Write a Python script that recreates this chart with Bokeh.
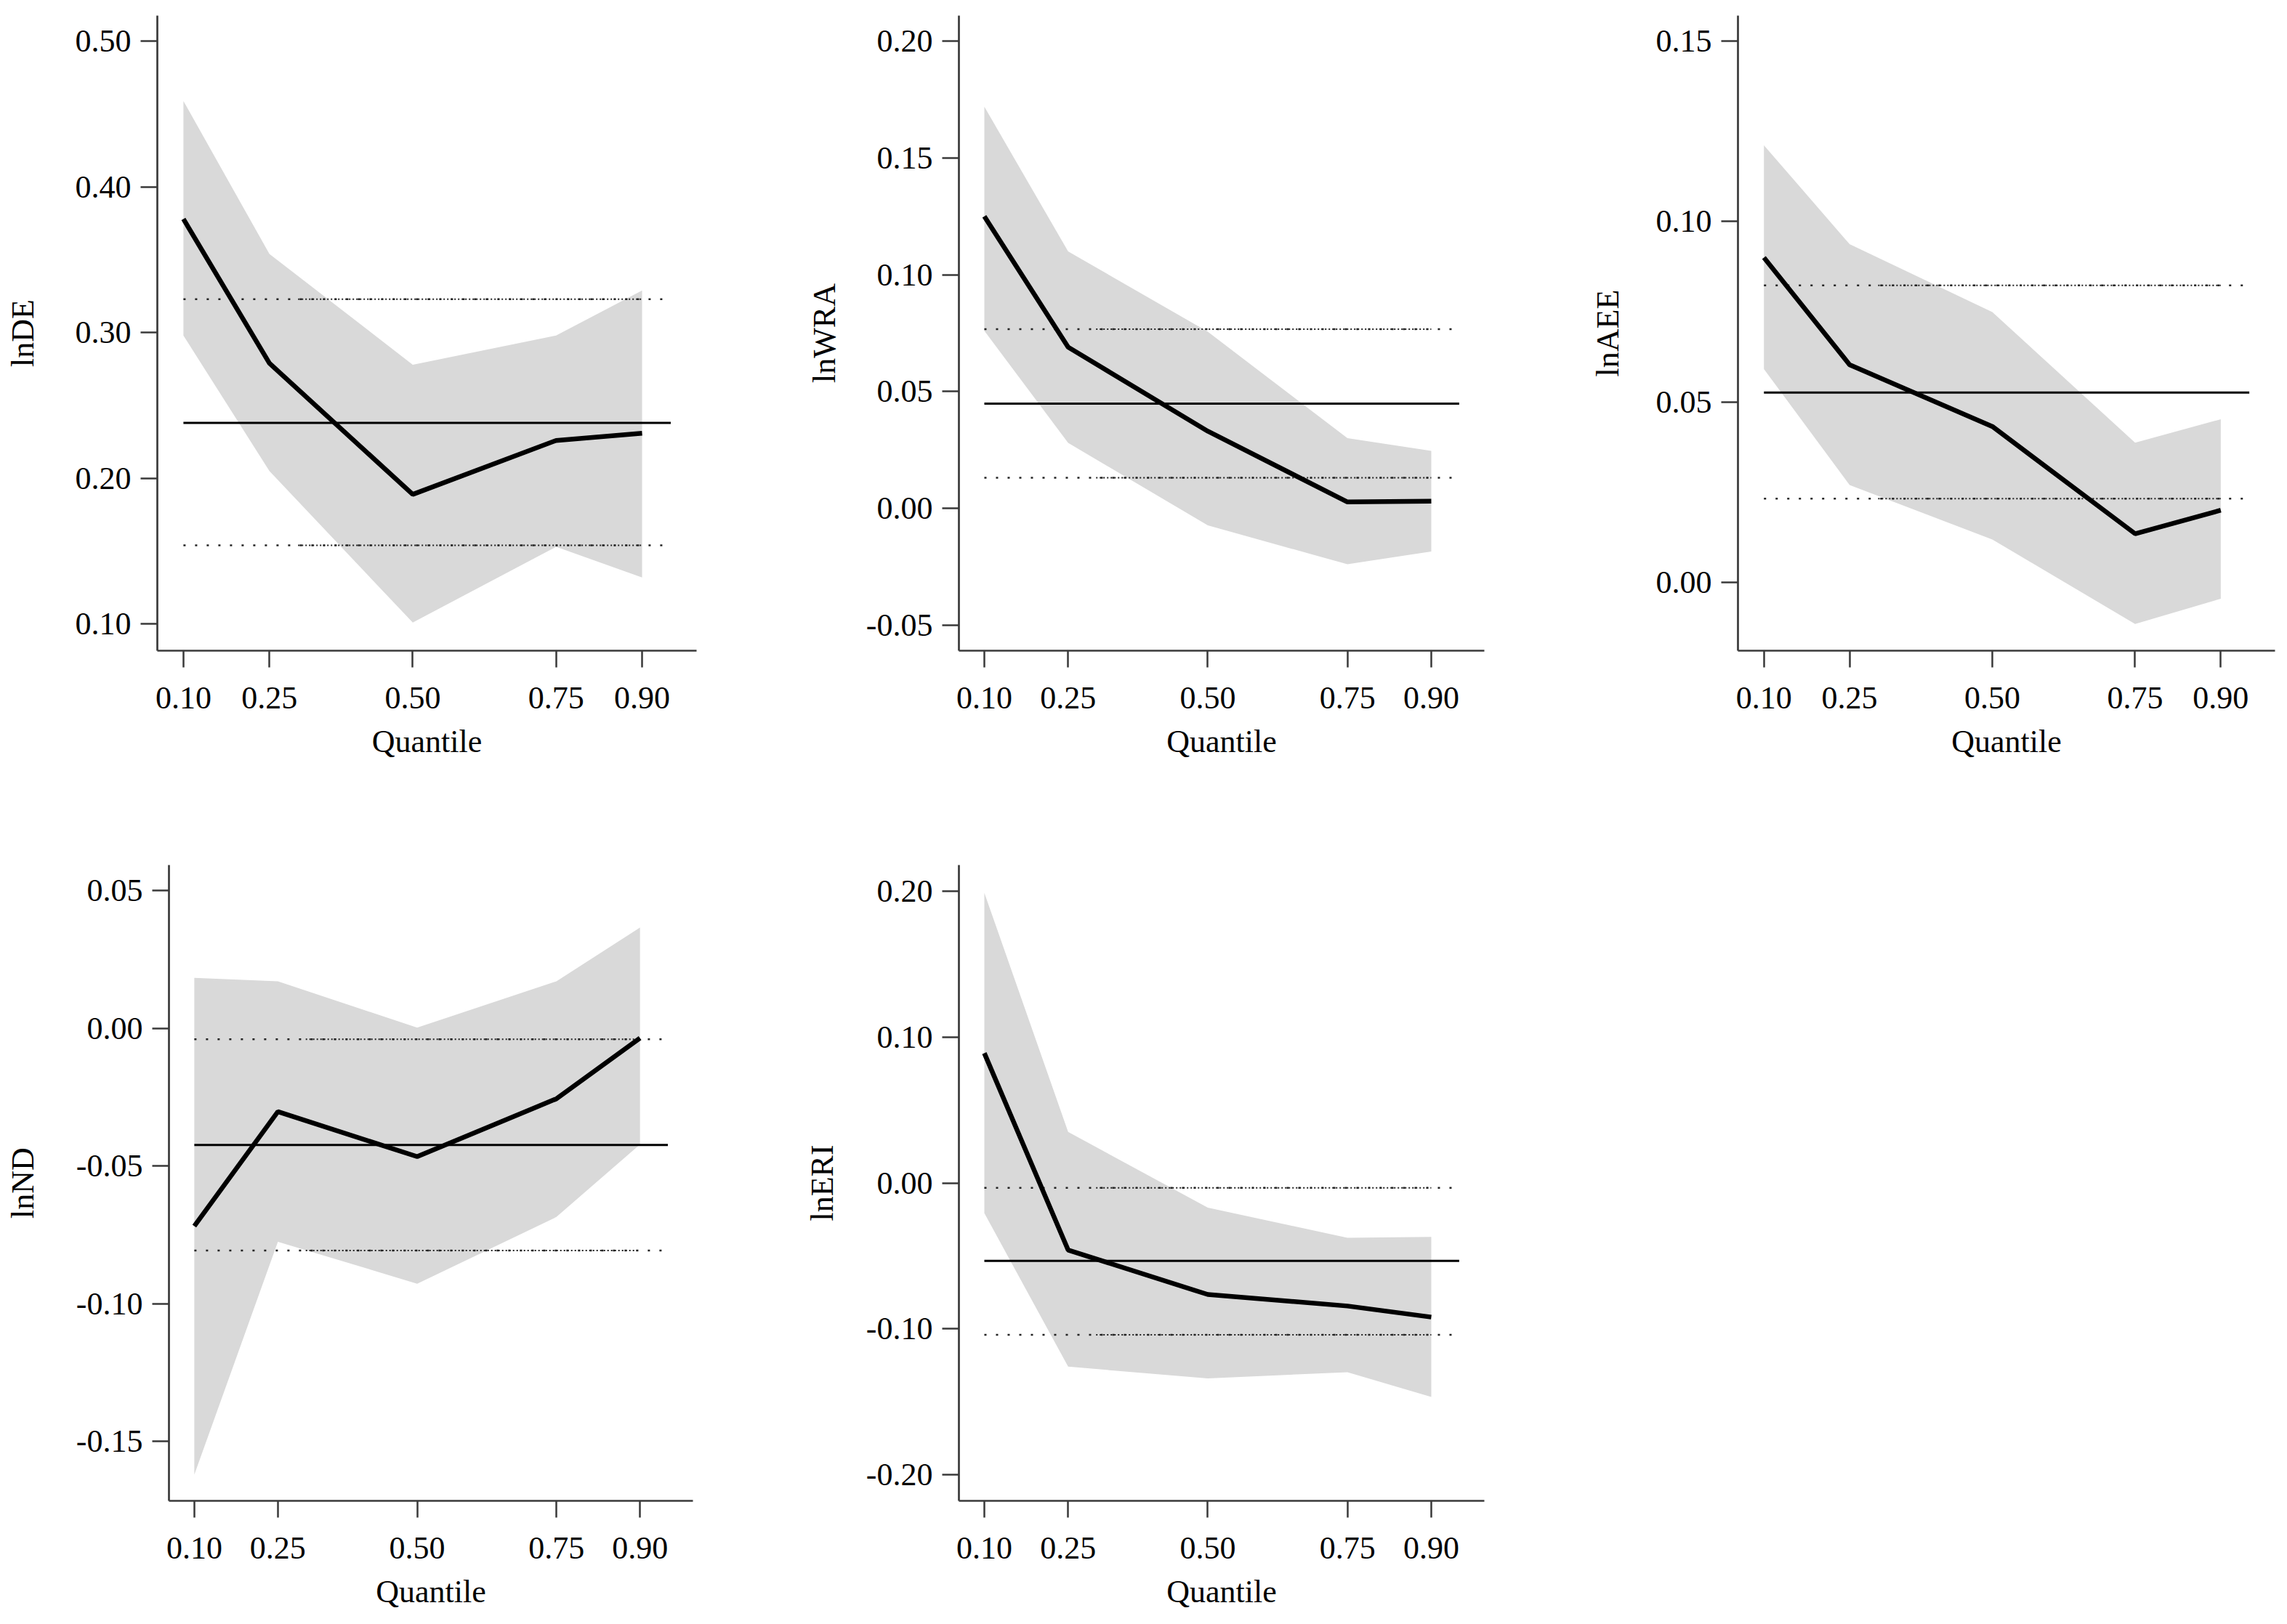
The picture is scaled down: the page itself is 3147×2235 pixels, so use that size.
from bokeh.plotting import figure
from bokeh.layouts import column, row
from bokeh.models import Range1d, FixedTicker, NumeralTickFormatter
from bokeh.embed import file_html
from bokeh.resources import INLINE

# ---------------- data ----------------
quantiles = [0.10, 0.25, 0.50, 0.75, 0.90]
x_ticks = [0.10, 0.25, 0.50, 0.75, 0.90]

variables = ["lnDE", "lnWRA", "lnAEE", "lnND", "lnERI"]

lnDE_coef = [0.378, 0.279, 0.189, 0.226, 0.231]
lnDE_lo = [0.298, 0.205, 0.101, 0.153, 0.132]
lnDE_hi = [0.459, 0.354, 0.278, 0.298, 0.329]

lnWRA_coef = [0.125, 0.069, 0.033, 0.0027, 0.003]
lnWRA_lo = [0.076, 0.028, -0.0073, -0.024, -0.0185]
lnWRA_hi = [0.172, 0.110, 0.0756, 0.030, 0.0246]

lnAEE_coef = [0.090, 0.0603, 0.0432, 0.0135, 0.020]
lnAEE_lo = [0.0591, 0.027, 0.0119, -0.0115, -0.0045]
lnAEE_hi = [0.1211, 0.0937, 0.0749, 0.0387, 0.0452]

lnND_coef = [-0.0718, -0.0303, -0.0466, -0.0256, -0.0036]
lnND_lo = [-0.162, -0.0775, -0.0927, -0.0685, -0.0422]
lnND_hi = [0.0183, 0.017, 0.0002, 0.017, 0.0365]

lnERI_coef = [0.089, -0.046, -0.0765, -0.0844, -0.092]
lnERI_lo = [-0.0207, -0.126, -0.134, -0.1298, -0.1467]
lnERI_hi = [0.199, 0.035, -0.017, -0.0376, -0.037]

# OLS estimate and its confidence bounds (horizontal reference lines)
ols_coef = [0.238, 0.0448, 0.0526, -0.0424, -0.0535]
ols_lo = [0.154, 0.0131, 0.0232, -0.0807, -0.1042]
ols_hi = [0.323, 0.0767, 0.0823, -0.004, -0.0034]

y_ticks = [
    [0.10, 0.20, 0.30, 0.40, 0.50],
    [-0.05, 0.00, 0.05, 0.10, 0.15, 0.20],
    [0.00, 0.05, 0.10, 0.15],
    [-0.15, -0.10, -0.05, 0.00, 0.05],
    [-0.20, -0.10, 0.00, 0.10, 0.20],
]

y_ranges = [
    (0.0817, 0.5176),
    (-0.061, 0.211),
    (-0.0189, 0.157),
    (-0.1715, 0.0592),
    (-0.218, 0.218),
]

coefs = [lnDE_coef, lnWRA_coef, lnAEE_coef, lnND_coef, lnERI_coef]
los = [lnDE_lo, lnWRA_lo, lnAEE_lo, lnND_lo, lnERI_lo]
his = [lnDE_hi, lnWRA_hi, lnAEE_hi, lnND_hi, lnERI_hi]

# ---------------- style / layout ----------------
X_RANGE = (0.0545, 0.995)
OLS_SPAN = (0.10, 0.95)
DENSE_SPAN = (0.30, 0.90)
FONT = "Liberation Serif"
FS = "44px"
AXIS_COLOR = "#3a3a3a"
BAND = "#d9d9d9"

# width, height, border left, right, top, bottom, y-label standoff
geom = [
    (1057, 1168, 216, 99, 21, 273, 45),
    (1049, 1168, 262, 64, 21, 273, 30),
    (1025, 1168, 285, 1, 21, 273, 39),
    (1057, 1051, 232, 104, 22, 154, 46),
    (1049, 1051, 262, 64, 22, 154, 33),
]


def make_panel(i):
    w, h, bl, br, bt, bb, ystand = geom[i]
    p = figure(width=w, height=h, output_backend="svg", toolbar_location=None,
               x_range=Range1d(*X_RANGE), y_range=Range1d(*y_ranges[i]),
               min_border_left=bl, min_border_right=br,
               min_border_top=bt, min_border_bottom=bb)
    p.outline_line_color = None
    p.xgrid.visible = False
    p.ygrid.visible = False
    p.background_fill_color = "white"
    p.border_fill_color = "white"

    p.varea(x=quantiles, y1=los[i], y2=his[i], fill_color=BAND, fill_alpha=1.0)

    # OLS CI dotted lines (sparse + denser middle section)
    for yv in (ols_lo[i], ols_hi[i]):
        p.line(x=list(OLS_SPAN), y=[yv, yv], line_color="#222222",
               line_width=2.5, line_dash="3 13")
        p.line(x=list(DENSE_SPAN), y=[yv, yv], line_color="#222222",
               line_width=2.0, line_dash="2 3")
    # OLS estimate
    p.line(x=list(OLS_SPAN), y=[ols_coef[i], ols_coef[i]], line_color="black",
           line_width=3)
    # quantile regression coefficients
    p.line(x=quantiles, y=coefs[i], line_color="black", line_width=6.5)

    for ax in (p.xaxis[0], p.yaxis[0]):
        ax.axis_line_color = AXIS_COLOR
        ax.axis_line_width = 2.7
        ax.major_tick_line_color = AXIS_COLOR
        ax.major_tick_line_width = 2.5
        ax.major_tick_out = 23
        ax.major_tick_in = 0
        ax.minor_tick_line_color = None
        ax.major_label_text_font = FONT
        ax.major_label_text_font_size = FS
        ax.major_label_text_color = "black"
        ax.axis_label_text_font = FONT
        ax.axis_label_text_font_size = FS
        ax.axis_label_text_font_style = "normal"
        ax.axis_label_text_color = "black"
        ax.formatter = NumeralTickFormatter(format="0.00")

    p.xaxis[0].ticker = FixedTicker(ticks=x_ticks)
    p.xaxis[0].axis_label = "Quantile"
    p.xaxis[0].major_label_standoff = 27
    p.xaxis[0].axis_label_standoff = 18

    p.yaxis[0].ticker = FixedTicker(ticks=y_ticks[i])
    p.yaxis[0].axis_label = variables[i]
    p.yaxis[0].major_label_standoff = 13
    p.yaxis[0].axis_label_standoff = ystand
    return p


panels = [make_panel(i) for i in range(5)]
layout = column(row(panels[0], panels[1], panels[2], spacing=0),
                row(panels[3], panels[4], spacing=0), spacing=0)

open("out.html", "w").write(file_html(layout, INLINE))
